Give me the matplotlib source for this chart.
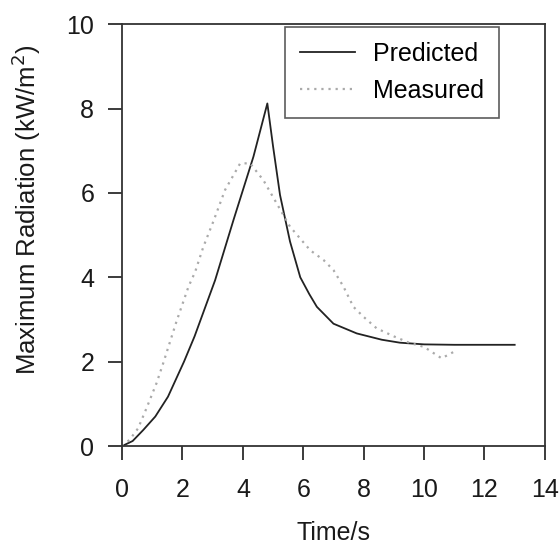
import matplotlib
matplotlib.use("Agg")
import matplotlib.pyplot as plt

plt.rcParams['font.family'] = ['Liberation Sans', 'DejaVu Sans']

# Predicted radiation (solid line)
t_pred = [0, 0.35, 0.7, 1.1, 1.52, 2.05, 2.4, 3.08, 3.69, 4.35, 4.81,
          5.0, 5.23, 5.56, 5.9, 6.2, 6.45, 7.0, 7.77, 8.6, 9.2, 10, 11, 12, 13]
y_pred = [0, 0.12, 0.38, 0.7, 1.17, 2.0, 2.6, 3.93, 5.36, 6.86, 8.12,
          7.1, 5.95, 4.85, 4.0, 3.6, 3.3, 2.9, 2.67, 2.52, 2.45, 2.41, 2.40, 2.40, 2.40]

# Measured radiation (dotted line)
t_meas = [0, 0.25, 0.53, 0.81, 1.14, 1.36, 1.8, 2.2, 2.42, 2.69, 3.02, 3.41,
          3.91, 4.24, 4.68, 5.12, 5.56, 6.23, 6.67, 7.0, 7.33, 7.66, 8.0, 8.43,
          9.0, 9.5, 10.0, 10.58, 11.08]
y_meas = [0, 0.15, 0.42, 0.9, 1.49, 1.96, 2.95, 3.78, 4.13, 4.72, 5.32, 6.07,
          6.7, 6.7, 6.3, 5.75, 5.2, 4.64, 4.41, 4.17, 3.78, 3.3, 3.06, 2.79,
          2.6, 2.45, 2.35, 2.08, 2.27]

x_ticks = [0, 2, 4, 6, 8, 10, 12, 14]
y_ticks = [0, 2, 4, 6, 8, 10]

fig = plt.figure(figsize=(5.6, 5.48), dpi=100)
ax = fig.add_axes([0.218, 0.186, 0.755, 0.770])

ax.plot(t_pred, y_pred, color='#222222', lw=1.3, label='Predicted')
ax.plot(t_meas, y_meas, color='#aaaaaa', lw=1.6, ls=(0, (1, 2.2)), label='Measured')

ax.set_xlim(0, 14)
ax.set_ylim(0, 10)
ax.set_xticks(x_ticks)
ax.set_yticks(y_ticks)
ax.tick_params(direction='out', length=10, width=1.2, labelsize=18,
               colors='#1a1a1a')
ax.tick_params(axis='x', pad=13)
ax.tick_params(axis='y', pad=10)
for s in ax.spines.values():
    s.set_linewidth(1.3)
    s.set_color('#333333')

ax.set_xlabel('Time/s', fontsize=18, labelpad=14, color='#1a1a1a')
ax.set_ylabel('Maximum Radiation (kW/m$^2$)', fontsize=18.5, color='#1a1a1a')
ax.yaxis.set_label_coords(-0.187, 0.56)

leg = ax.legend(loc='upper right', bbox_to_anchor=(0.891, 0.993), fontsize=18,
                frameon=True, fancybox=False, borderpad=0.6, handlelength=2.2,
                labelspacing=0.5, handletextpad=0.7, borderaxespad=0)
leg.get_frame().set_edgecolor('#333333')
leg.get_frame().set_linewidth(1.2)

fig.savefig('out.png', dpi=100)
